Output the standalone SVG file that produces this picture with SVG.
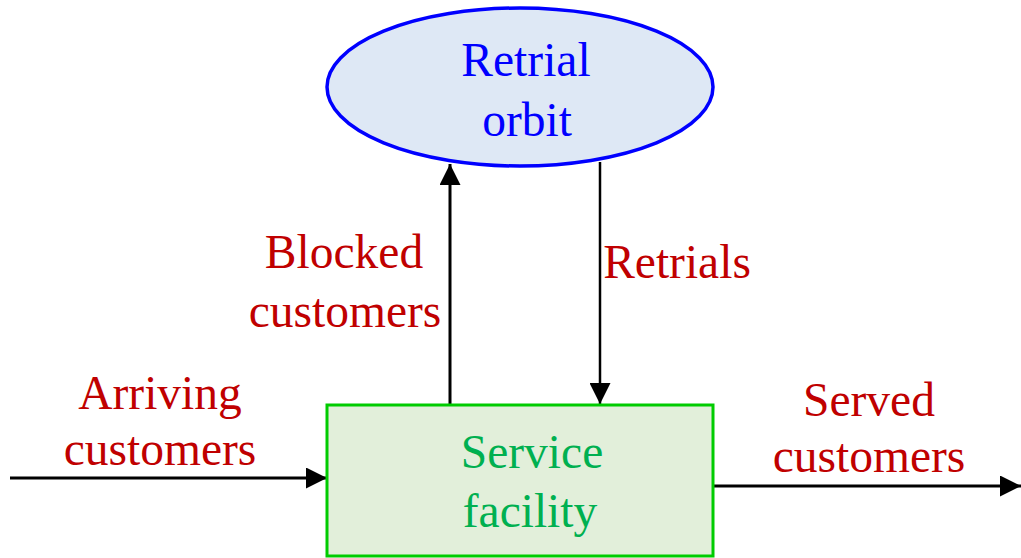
<svg xmlns="http://www.w3.org/2000/svg" width="1021" height="558" viewBox="0 0 1021 558">
  <style>
    text { font-family: "Liberation Serif", "Times New Roman", serif; font-size: 47.5px; text-anchor: middle; }
    .lbl { fill: #c00000; }
    .orbit-txt { fill: #0000ff; }
    .svc-txt { fill: #00b050; }
    .conn { stroke: #000; fill: none; }
  </style>
  <defs>
    <marker id="arrow" viewBox="0 0 10 10" refX="10" refY="5" markerWidth="21" markerHeight="21" markerUnits="userSpaceOnUse" orient="auto">
      <path d="M0,0 L10,5 L0,10 Z" fill="#000"/>
    </marker>
  </defs>

  <g id="connectors">
    <line class="conn" x1="10" y1="478" x2="327" y2="478" stroke-width="3" marker-end="url(#arrow)"/>
    <line class="conn" x1="450" y1="405" x2="450" y2="164" stroke-width="3" marker-end="url(#arrow)"/>
    <line class="conn" x1="600" y1="162" x2="600" y2="404" stroke-width="2.5" marker-end="url(#arrow)"/>
    <line class="conn" x1="713" y1="486" x2="1021" y2="486" stroke-width="3" marker-end="url(#arrow)"/>
  </g>

  <g id="retrial-orbit">
    <ellipse cx="520" cy="87" rx="193" ry="79" fill="#dee8f5" stroke="#0000ff" stroke-width="3.5"/>
    <text class="orbit-txt" x="526" y="76">Retrial</text>
    <text class="orbit-txt" x="527" y="136">orbit</text>
  </g>

  <g id="service-facility">
    <rect x="327" y="405" width="386" height="151" fill="#e2efda" stroke="#00cc00" stroke-width="3"/>
    <text class="svc-txt" x="532" y="468">Service</text>
    <text class="svc-txt" x="530" y="527">facility</text>
  </g>

  <g id="label-arriving">
    <text class="lbl" x="160" y="409">Arriving</text>
    <text class="lbl" x="160" y="465">customers</text>
  </g>

  <g id="label-blocked">
    <text class="lbl" x="344" y="268">Blocked</text>
    <text class="lbl" x="345" y="327">customers</text>
  </g>

  <g id="label-retrials">
    <text class="lbl" x="677" y="278">Retrials</text>
  </g>

  <g id="label-served">
    <text class="lbl" x="869" y="416">Served</text>
    <text class="lbl" x="869" y="472">customers</text>
  </g>
</svg>
